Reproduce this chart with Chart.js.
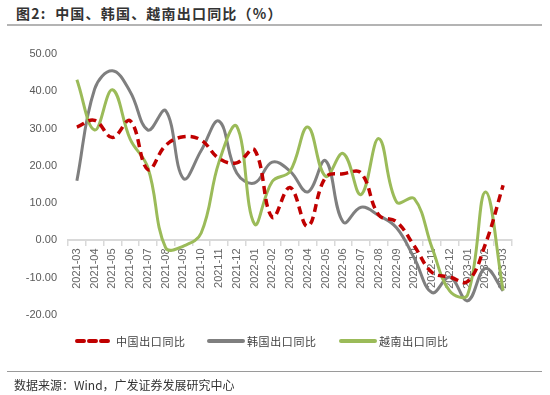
<!DOCTYPE html>
<html>
<head>
<meta charset="utf-8">
<script src="https://cdn.jsdelivr.net/npm/chart.js@4/dist/chart.umd.min.js"></script>
<style>
  body { margin: 0; background: #fff; }
  #wrap { position: relative; width: 550px; height: 395px; overflow: hidden; font-family: "Noto Sans CJK SC", sans-serif; }
  #chart { position: absolute; left: 0; top: 0; }
  .title { position: absolute; left: 16px; top: 3px; font-size: 14px; font-weight: bold; color: #333; letter-spacing: 1.2px; }
  .rule-top { position: absolute; left: 7px; top: 24px; width: 535px; height: 2px; background: #b4b4b4; }
  .rule-bot { position: absolute; left: 7px; top: 371px; width: 535px; height: 1px; background: #9a9a9a; }
  .source { position: absolute; left: 14px; top: 376px; font-size: 12px; color: #333; }
  .legend { position: absolute; top: 333px; font-size: 11px; color: #404040; letter-spacing: 0.6px; }
  .legend svg { position: absolute; top: 4px; }
</style>
</head>
<body>
<div id="wrap">
  <div class="title">图2:&nbsp; 中国、韩国、越南出口同比（%）</div>
  <div class="rule-top"></div>
  <canvas id="chart" width="550" height="395"></canvas>
  <div class="legend" style="left:75px">
    <svg width="36" height="8"><line x1="2" y1="4" x2="34" y2="4" stroke="#c00000" stroke-width="4" stroke-linecap="round" stroke-dasharray="7,5"/></svg>
    <span style="margin-left:41px">中国出口同比</span>
  </div>
  <div class="legend" style="left:207px">
    <svg width="38" height="8"><line x1="2" y1="4" x2="36" y2="4" stroke="#7f7f7f" stroke-width="4" stroke-linecap="round"/></svg>
    <span style="margin-left:40px">韩国出口同比</span>
  </div>
  <div class="legend" style="left:339px">
    <svg width="38" height="8"><line x1="2" y1="4" x2="36" y2="4" stroke="#9bbb59" stroke-width="4" stroke-linecap="round"/></svg>
    <span style="margin-left:40px">越南出口同比</span>
  </div>
  <div class="rule-bot"></div>
  <div class="source">数据来源：Wind，广发证券发展研究中心</div>
</div>
<script>
// --- DATA ---
const months = ['2021-03','2021-04','2021-05','2021-06','2021-07','2021-08','2021-09','2021-10','2021-11','2021-12',
                '2022-01','2022-02','2022-03','2022-04','2022-05','2022-06','2022-07','2022-08','2022-09','2022-10',
                '2022-11','2022-12','2023-01','2023-02','2023-03'];
const chinaExport   = [30.4, 32.2, 27.6, 32.1, 19.0, 25.5, 27.8, 26.9, 22.0, 20.8,
                       24.3, 6.2, 14.2, 3.8, 16.9, 17.9, 18.1, 6.8, 5.0, -1.5,
                       -8.6, -9.8, -11.0, -1.0, 14.8];
const koreaExport   = [16.0, 40.6, 45.5, 39.9, 29.6, 34.8, 16.6, 24.1, 32.0, 18.1,
                       15.4, 21.0, 18.6, 13.0, 21.4, 4.9, 8.9, 6.7, 3.4, -4.8,
                       -14.0, -9.8, -16.2, -7.5, -13.5];
const vietnamExport = [43.1, 29.6, 40.4, 27.2, 19.5, -2.0, -1.5, 2.0, 21.0, 30.6,
                       4.4, 15.8, 18.5, 30.4, 17.2, 23.3, 12.3, 27.3, 10.3, 11.2,
                       -2.0, -13.6, -14.6, 13.0, -13.4];
const yTicks = [50, 40, 30, 20, 10, 0, -10, -20];

// --- CHART ---
const axisFont = { family: '"Liberation Sans", Arial, sans-serif', size: 11 };

new Chart(document.getElementById('chart').getContext('2d'), {
    type: 'line',
    data: {
        labels: months,
        datasets: [
            { label: '中国出口同比', data: chinaExport, borderColor: '#c00000', borderWidth: 3.5, borderDash: [8, 5], tension: 0.4, order: 1 },
            { label: '韩国出口同比', data: koreaExport, borderColor: '#7f7f7f', borderWidth: 3, tension: 0.4, order: 3 },
            { label: '越南出口同比', data: vietnamExport, borderColor: '#9bbb59', borderWidth: 3, tension: 0.4, order: 2 },
        ],
    },
    options: {
        responsive: false,
        animation: false,
        elements: { point: { radius: 0 } },
        layout: { padding: { left: 0, right: 38, top: 54, bottom: 80 } },
        plugins: { legend: { display: false }, tooltip: { enabled: false } },
        scales: {
            x: {
                position: { y: 0 },
                offset: true,
                grid: { offset: true, drawOnChartArea: false, drawTicks: true, tickLength: 5, color: '#d9d9d9', lineWidth: 1.5 },
                border: { display: true, color: '#d9d9d9', width: 2 },
                ticks: { autoSkip: false, minRotation: 90, maxRotation: 90, padding: 3, color: '#666', font: axisFont },
            },
            y: {
                min: -20,
                max: 50,
                afterFit: s => { s.width = 68; },
                afterBuildTicks: s => { s.ticks = yTicks.map(v => ({ value: v })); },
                grid: { display: false, drawTicks: false },
                border: { display: false },
                ticks: { padding: 11, color: '#595959', font: axisFont, callback: v => v.toFixed(2) },
            },
        },
    },
});
</script>
</body>
</html>
